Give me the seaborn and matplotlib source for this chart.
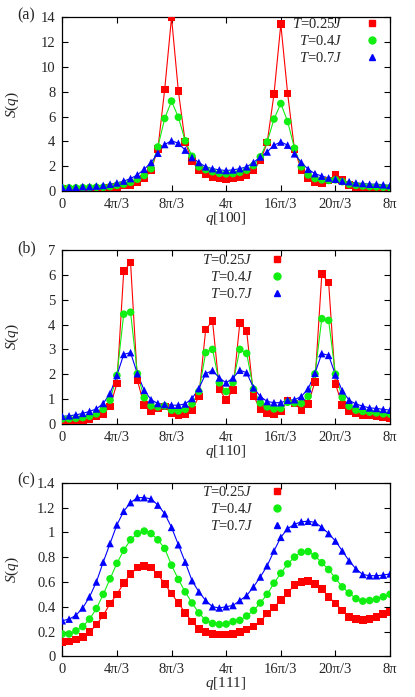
import numpy as np
import pandas as pd
import matplotlib
matplotlib.use('Agg')
import matplotlib.pyplot as plt
from matplotlib.lines import Line2D
import seaborn as sns

# q grid: 0 .. 8*pi in steps of pi/6
q = np.linspace(0, 8 * np.pi, 49)

temps = ['0.25', '0.4', '0.7']
colors = {'0.25': '#ff0000', '0.4': '#11ee11', '0.7': '#0000ff'}
markers = {'0.25': 's', '0.4': 'o', '0.7': '^'}

xtick_labels = ['0', '4π/3', '8π/3', '4π', '16π/3', '20π/3', '8π']

# (a) q along [100]
s100_t025 = [0.15, 0.12, 0.12, 0.12, 0.12, 0.15, 0.2, 0.25, 0.3, 0.45, 0.5, 0.72, 1.0,
             1.65, 3.4, 8.2, 14.0, 8.05, 3.95, 2.4, 1.7, 1.35, 1.15, 1.0, 0.97, 1.0,
             1.1, 1.25, 1.7, 2.45, 3.9, 7.8, 13.45, 7.85, 3.35, 1.7, 1.0, 0.7, 0.6,
             0.85, 1.28, 0.9, 0.5, 0.3, 0.2, 0.18, 0.17, 0.17, 0.17]
s100_t04 = [0.25, 0.25, 0.25, 0.27, 0.28, 0.3, 0.3, 0.35, 0.45, 0.55, 0.7, 0.95, 1.25,
            1.8, 3.55, 5.85, 7.25, 5.95, 4.05, 2.8, 1.95, 1.72, 1.55, 1.42, 1.38, 1.4,
            1.5, 1.68, 2.05, 2.75, 3.95, 5.8, 7.05, 5.6, 3.45, 1.95, 1.3, 1.0, 0.9,
            0.85, 0.9, 0.75, 0.55, 0.45, 0.4, 0.35, 0.33, 0.3, 0.27]
s100_t07 = [0.3, 0.3, 0.3, 0.35, 0.35, 0.4, 0.45, 0.55, 0.65, 0.8, 1.0, 1.3, 1.75,
            2.3, 3.05, 3.75, 4.05, 3.85, 3.3, 2.7, 2.3, 1.95, 1.8, 1.7, 1.65, 1.7,
            1.8, 1.95, 2.3, 2.75, 3.15, 3.7, 3.95, 3.7, 3.0, 2.3, 1.75, 1.4, 1.2,
            1.05, 0.95, 0.8, 0.75, 0.65, 0.6, 0.55, 0.55, 0.5, 0.45]

# (b) q along [110]
s110_t025 = [0.1, 0.1, 0.12, 0.15, 0.2, 0.3, 0.4, 0.7, 1.62, 6.15, 6.5, 1.75, 0.75,
             0.5, 0.62, 0.7, 0.42, 0.35, 0.4, 0.55, 1.1, 3.8, 4.15, 1.4, 0.95, 1.37,
             4.07, 3.74, 1.13, 0.59, 0.44, 0.4, 0.5, 0.94, 0.82, 0.56, 0.79, 1.69,
             6.03, 5.7, 1.6, 0.76, 0.5, 0.42, 0.35, 0.34, 0.32, 0.27, 0.24]
s110_t04 = [0.2, 0.2, 0.22, 0.25, 0.3, 0.4, 0.58, 0.95, 1.95, 4.42, 4.5, 2.02, 1.05,
            0.72, 0.68, 0.72, 0.55, 0.52, 0.58, 0.8, 1.3, 2.87, 3.0, 1.65, 1.3, 1.66,
            3.0, 2.84, 1.39, 0.84, 0.68, 0.6, 0.62, 0.87, 0.84, 0.82, 1.11, 2.01,
            4.24, 4.17, 2.0, 1.06, 0.71, 0.55, 0.5, 0.47, 0.44, 0.4, 0.39]
s110_t07 = [0.3, 0.32, 0.36, 0.42, 0.5, 0.6, 0.82, 1.22, 1.95, 2.8, 2.87, 2.02, 1.35,
            0.97, 0.82, 0.78, 0.75, 0.75, 0.8, 1.02, 1.42, 2.02, 2.15, 1.85, 1.65,
            1.85, 2.16, 2.06, 1.45, 1.1, 0.9, 0.85, 0.85, 0.95, 0.97, 1.1, 1.41, 2.04,
            2.83, 2.76, 1.97, 1.33, 0.95, 0.8, 0.71, 0.64, 0.62, 0.58, 0.55]

# (c) q along [111]
s111_t025 = [0.115, 0.12, 0.135, 0.155, 0.195, 0.255, 0.33, 0.425, 0.5, 0.59, 0.665,
             0.715, 0.73, 0.715, 0.66, 0.585, 0.505, 0.43, 0.35, 0.28, 0.22, 0.195,
             0.18, 0.177, 0.177, 0.18, 0.195, 0.215, 0.24, 0.28, 0.345, 0.395, 0.455,
             0.51, 0.575, 0.6, 0.605, 0.585, 0.545, 0.48, 0.425, 0.37, 0.315, 0.3,
             0.295, 0.3, 0.315, 0.34, 0.355]
s111_t04 = [0.18, 0.18, 0.205, 0.24, 0.3, 0.385, 0.5, 0.625, 0.75, 0.855, 0.94, 0.99,
            1.01, 0.99, 0.94, 0.87, 0.735, 0.62, 0.52, 0.43, 0.35, 0.29, 0.265, 0.257,
            0.26, 0.28, 0.29, 0.325, 0.37, 0.43, 0.5, 0.59, 0.67, 0.745, 0.8, 0.84,
            0.845, 0.81, 0.755, 0.7, 0.63, 0.56, 0.51, 0.465, 0.445, 0.45, 0.46, 0.48,
            0.5]
s111_t07 = [0.287, 0.3, 0.33, 0.39, 0.48, 0.6, 0.76, 0.91, 1.06, 1.17, 1.24, 1.28,
            1.28, 1.27, 1.22, 1.15, 1.04, 0.9, 0.76, 0.61, 0.52, 0.45, 0.4, 0.39, 0.4,
            0.41, 0.45, 0.49, 0.56, 0.64, 0.73, 0.85, 0.96, 1.03, 1.065, 1.085, 1.09,
            1.08, 1.04, 0.99, 0.93, 0.85, 0.77, 0.705, 0.66, 0.65, 0.65, 0.655, 0.665]

sns.set_style('ticks')
plt.rcParams['font.family'] = ['Liberation Serif', 'DejaVu Serif']
plt.rcParams['mathtext.fontset'] = 'custom'
plt.rcParams['mathtext.rm'] = 'Liberation Serif'
plt.rcParams['mathtext.it'] = 'Liberation Serif:italic'

fig = plt.figure(figsize=(4.15, 6.97), dpi=100)

panels = [
    ('(a)', '[100]', [s100_t025, s100_t04, s100_t07], np.arange(0, 15, 2), 14,
     0.726, (0.971, 1.0), 1.4),
    ('(b)', '[110]', [s110_t025, s110_t04, s110_t07], np.arange(0, 8, 1), 7,
     0.392, (0.681, 0.985), 1.0),
    ('(c)', '[111]', [s111_t025, s111_t04, s111_t07], np.arange(0, 1.41, 0.2), 1.4,
     0.0584, (0.681, 0.985), 1.0),
]

for tag, direction, series, yticks, ymax, bottom, leg_anchor, text_pad in panels:
    ax = fig.add_axes([0.150, bottom, 0.790, 0.249])
    df = pd.DataFrame({
        'q': np.tile(q, 3),
        'S': np.concatenate(series),
        'T': np.repeat(temps, len(q)),
    })
    sns.lineplot(data=df, x='q', y='S', hue='T', palette=colors, lw=0.8,
                 legend=False, sort=False, estimator=None, ax=ax)
    sns.scatterplot(data=df, x='q', y='S', hue='T', style='T', markers=markers,
                    palette=colors, s=30, edgecolor='none', legend=False,
                    ax=ax, zorder=3)

    ax.set_xlim(0, 8 * np.pi)
    ax.set_ylim(0, ymax)
    ax.set_xticks(np.linspace(0, 8 * np.pi, 7))
    ax.set_xticklabels(xtick_labels)
    ax.set_yticks(yticks)
    ax.set_yticklabels(['%g' % round(v, 1) for v in yticks])
    ax.tick_params(direction='in', top=True, right=True, labelsize=10.5,
                   length=4, width=0.8, color='black')
    ax.tick_params(axis='y', pad=5)
    ax.tick_params(axis='x', pad=5)
    for sp in ax.spines.values():
        sp.set_linewidth(0.9)
        sp.set_color('black')

    ax.set_xlabel(r'$q$' + direction, fontsize=11, va='center')
    ax.xaxis.set_label_coords(0.5, -0.158)
    ax.set_ylabel(r'$S$($q$)', fontsize=11, va='center')
    ax.yaxis.set_label_coords(-0.152, 0.5)

    handles = [Line2D([], [], ls='none', marker=markers[t], color=colors[t],
                      markersize=5) for t in temps]
    labels = [r'$T$=' + t + r'$J$' for t in temps]
    ax.legend(handles, labels, loc='upper right', bbox_to_anchor=leg_anchor,
              markerfirst=False, frameon=False, fontsize=10.5, handlelength=1.2,
              handletextpad=text_pad, labelspacing=0.2, borderpad=0,
              borderaxespad=0)

    fig.text(0.042, bottom + 0.249 + 0.003, tag, fontsize=11.5, va='center')

fig.savefig('out.png', dpi=100)
